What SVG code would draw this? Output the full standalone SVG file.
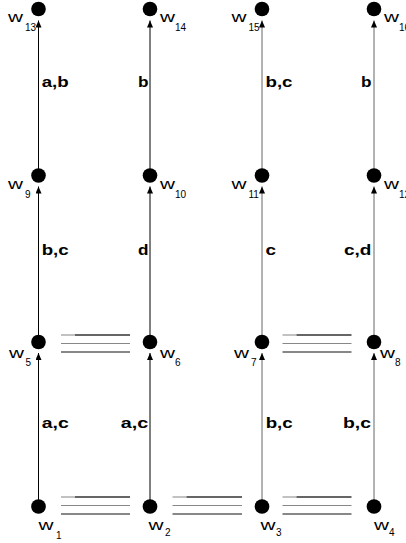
<svg xmlns="http://www.w3.org/2000/svg" width="406" height="543" viewBox="0 0 406 543">
<style>
.node{fill:#000}
.w{font-family:"Liberation Sans",Arial,sans-serif;font-size:14px;fill:#000}
.s{font-family:"Liberation Sans",Arial,sans-serif;font-size:10px;fill:#000}
.lab{font-family:"Liberation Sans",Arial,sans-serif;font-size:15px;font-weight:bold;fill:#000}
.e1{stroke:#000;stroke-width:1;fill:none}
.e2{stroke:#666;stroke-width:1;fill:none}
.t1{stroke:#999;stroke-width:1.2}
.t2{stroke:#333;stroke-width:1.4}
.t3{stroke:#888;stroke-width:1}
.t4{stroke:#111;stroke-width:1}
</style>
<defs>
<marker id="ah" markerUnits="userSpaceOnUse" markerWidth="8" markerHeight="7" refX="7" refY="3" orient="auto">
<path d="M0,0 L7,3 L0,6 z" fill="#000"/>
</marker>
</defs>
<rect width="406" height="543" fill="#fff"/>
<g id="connectors">
<line class="e1" x1="38.5" y1="506.5" x2="38.5" y2="353" marker-end="url(#ah)"/>
<line class="e1" x1="150" y1="506.5" x2="150" y2="353" marker-end="url(#ah)"/>
<line class="e2" x1="262" y1="506.5" x2="262" y2="353" marker-end="url(#ah)"/>
<line class="e2" x1="374" y1="506.5" x2="374" y2="353" marker-end="url(#ah)"/>
<line class="e1" x1="38.5" y1="342" x2="38.5" y2="186.5" marker-end="url(#ah)"/>
<line class="e1" x1="150" y1="342" x2="150" y2="186.5" marker-end="url(#ah)"/>
<line class="e2" x1="262" y1="342" x2="262" y2="186.5" marker-end="url(#ah)"/>
<line class="e2" x1="374" y1="342" x2="374" y2="186.5" marker-end="url(#ah)"/>
<line class="e1" x1="38.5" y1="175.5" x2="38.5" y2="20.5" marker-end="url(#ah)"/>
<line class="e1" x1="150" y1="175.5" x2="150" y2="20.5" marker-end="url(#ah)"/>
<line class="e2" x1="262" y1="175.5" x2="262" y2="20.5" marker-end="url(#ah)"/>
<line class="e2" x1="374" y1="175.5" x2="374" y2="20.5" marker-end="url(#ah)"/>
<text class="lab" x="41.7" y="86.5" textLength="27" lengthAdjust="spacingAndGlyphs">a,b</text>
<text class="lab" x="138" y="86.5" textLength="10.5" lengthAdjust="spacingAndGlyphs">b</text>
<text class="lab" x="265.5" y="86.5" textLength="27" lengthAdjust="spacingAndGlyphs">b,c</text>
<text class="lab" x="361" y="86.5" textLength="10.5" lengthAdjust="spacingAndGlyphs">b</text>
<text class="lab" x="41.7" y="255" textLength="27" lengthAdjust="spacingAndGlyphs">b,c</text>
<text class="lab" x="138" y="255" textLength="10.5" lengthAdjust="spacingAndGlyphs">d</text>
<text class="lab" x="265.5" y="255" textLength="10.5" lengthAdjust="spacingAndGlyphs">c</text>
<text class="lab" x="344" y="255" textLength="27.5" lengthAdjust="spacingAndGlyphs">c,d</text>
<text class="lab" x="41.7" y="428" textLength="27" lengthAdjust="spacingAndGlyphs">a,c</text>
<text class="lab" x="120.7" y="428" textLength="27.5" lengthAdjust="spacingAndGlyphs">a,c</text>
<text class="lab" x="265.7" y="428" textLength="27" lengthAdjust="spacingAndGlyphs">b,c</text>
<text class="lab" x="343" y="428" textLength="28" lengthAdjust="spacingAndGlyphs">b,c</text>
</g>
<g id="equivalences">
<g id="eq-w5-w6">
<line class="t1" x1="61" y1="335" x2="75" y2="335"/><line class="t2" x1="75" y1="335" x2="130" y2="335"/>
<line class="t3" x1="61" y1="343.5" x2="130" y2="343.5"/>
<line class="t4" x1="61" y1="352" x2="130" y2="352"/>
</g>
<g id="eq-w7-w8">
<line class="t1" x1="282.5" y1="335" x2="296.5" y2="335"/><line class="t2" x1="296.5" y1="335" x2="351.5" y2="335"/>
<line class="t3" x1="282.5" y1="343.5" x2="351.5" y2="343.5"/>
<line class="t4" x1="282.5" y1="352" x2="351.5" y2="352"/>
</g>
<g id="eq-w1-w2">
<line class="t1" x1="61" y1="497" x2="75" y2="497"/><line class="t2" x1="75" y1="497" x2="130" y2="497"/>
<line class="t3" x1="61" y1="505.5" x2="130" y2="505.5"/>
<line class="t4" x1="61" y1="514" x2="130" y2="514"/>
</g>
<g id="eq-w2-w3">
<line class="t1" x1="172.5" y1="497" x2="186.5" y2="497"/><line class="t2" x1="186.5" y1="497" x2="242" y2="497"/>
<line class="t3" x1="172.5" y1="505.5" x2="242" y2="505.5"/>
<line class="t4" x1="172.5" y1="514" x2="242" y2="514"/>
</g>
<g id="eq-w3-w4">
<line class="t1" x1="282.5" y1="497" x2="296.5" y2="497"/><line class="t2" x1="296.5" y1="497" x2="351.5" y2="497"/>
<line class="t3" x1="282.5" y1="505.5" x2="351.5" y2="505.5"/>
<line class="t4" x1="282.5" y1="514" x2="351.5" y2="514"/>
</g>
</g>
<g id="w13"><circle class="node" cx="38.5" cy="9" r="7.3"/><text class="w" x="8" y="22" textLength="15" lengthAdjust="spacingAndGlyphs">w</text><text class="s" x="25" y="31">13</text></g>
<g id="w14"><circle class="node" cx="150" cy="9" r="7.3"/><text class="w" x="160" y="22" textLength="15" lengthAdjust="spacingAndGlyphs">w</text><text class="s" x="175" y="31">14</text></g>
<g id="w15"><circle class="node" cx="262" cy="9" r="7.3"/><text class="w" x="231.5" y="22" textLength="15" lengthAdjust="spacingAndGlyphs">w</text><text class="s" x="248.5" y="31">15</text></g>
<g id="w16"><circle class="node" cx="374" cy="9" r="7.3"/><text class="w" x="384" y="22" textLength="15" lengthAdjust="spacingAndGlyphs">w</text><text class="s" x="399" y="31">16</text></g>
<g id="w9"><circle class="node" cx="38.5" cy="175.5" r="7.3"/><text class="w" x="8" y="189" textLength="15" lengthAdjust="spacingAndGlyphs">w</text><text class="s" x="25" y="197.5">9</text></g>
<g id="w10"><circle class="node" cx="150" cy="175.5" r="7.3"/><text class="w" x="160" y="189" textLength="15" lengthAdjust="spacingAndGlyphs">w</text><text class="s" x="175" y="197.5">10</text></g>
<g id="w11"><circle class="node" cx="262" cy="175.5" r="7.3"/><text class="w" x="231.5" y="189" textLength="15" lengthAdjust="spacingAndGlyphs">w</text><text class="s" x="248.5" y="197.5">11</text></g>
<g id="w12"><circle class="node" cx="374" cy="175.5" r="7.3"/><text class="w" x="384" y="189" textLength="15" lengthAdjust="spacingAndGlyphs">w</text><text class="s" x="399" y="197.5">12</text></g>
<g id="w5"><circle class="node" cx="38.5" cy="342" r="7.3"/><text class="w" x="9" y="358" textLength="15" lengthAdjust="spacingAndGlyphs">w</text><text class="s" x="25.5" y="365.5">5</text></g>
<g id="w6"><circle class="node" cx="150" cy="342" r="7.3"/><text class="w" x="160" y="358" textLength="15" lengthAdjust="spacingAndGlyphs">w</text><text class="s" x="175" y="365.5">6</text></g>
<g id="w7"><circle class="node" cx="262" cy="342" r="7.3"/><text class="w" x="234" y="358" textLength="15" lengthAdjust="spacingAndGlyphs">w</text><text class="s" x="251" y="365.5">7</text></g>
<g id="w8"><circle class="node" cx="374" cy="342" r="7.3"/><text class="w" x="380" y="358" textLength="15" lengthAdjust="spacingAndGlyphs">w</text><text class="s" x="395" y="365.5">8</text></g>
<g id="w1"><circle class="node" cx="38.5" cy="506.5" r="7.3"/><text class="w" x="38.5" y="529.5" textLength="15" lengthAdjust="spacingAndGlyphs">w</text><text class="s" x="56" y="538.5">1</text></g>
<g id="w2"><circle class="node" cx="150" cy="506.5" r="7.3"/><text class="w" x="148.5" y="529.5" textLength="15" lengthAdjust="spacingAndGlyphs">w</text><text class="s" x="165" y="536">2</text></g>
<g id="w3"><circle class="node" cx="262" cy="506.5" r="7.3"/><text class="w" x="260.5" y="529.5" textLength="15" lengthAdjust="spacingAndGlyphs">w</text><text class="s" x="276" y="536">3</text></g>
<g id="w4"><circle class="node" cx="374" cy="506.5" r="7.3"/><text class="w" x="374" y="529.5" textLength="15" lengthAdjust="spacingAndGlyphs">w</text><text class="s" x="389" y="536">4</text></g>
</svg>
